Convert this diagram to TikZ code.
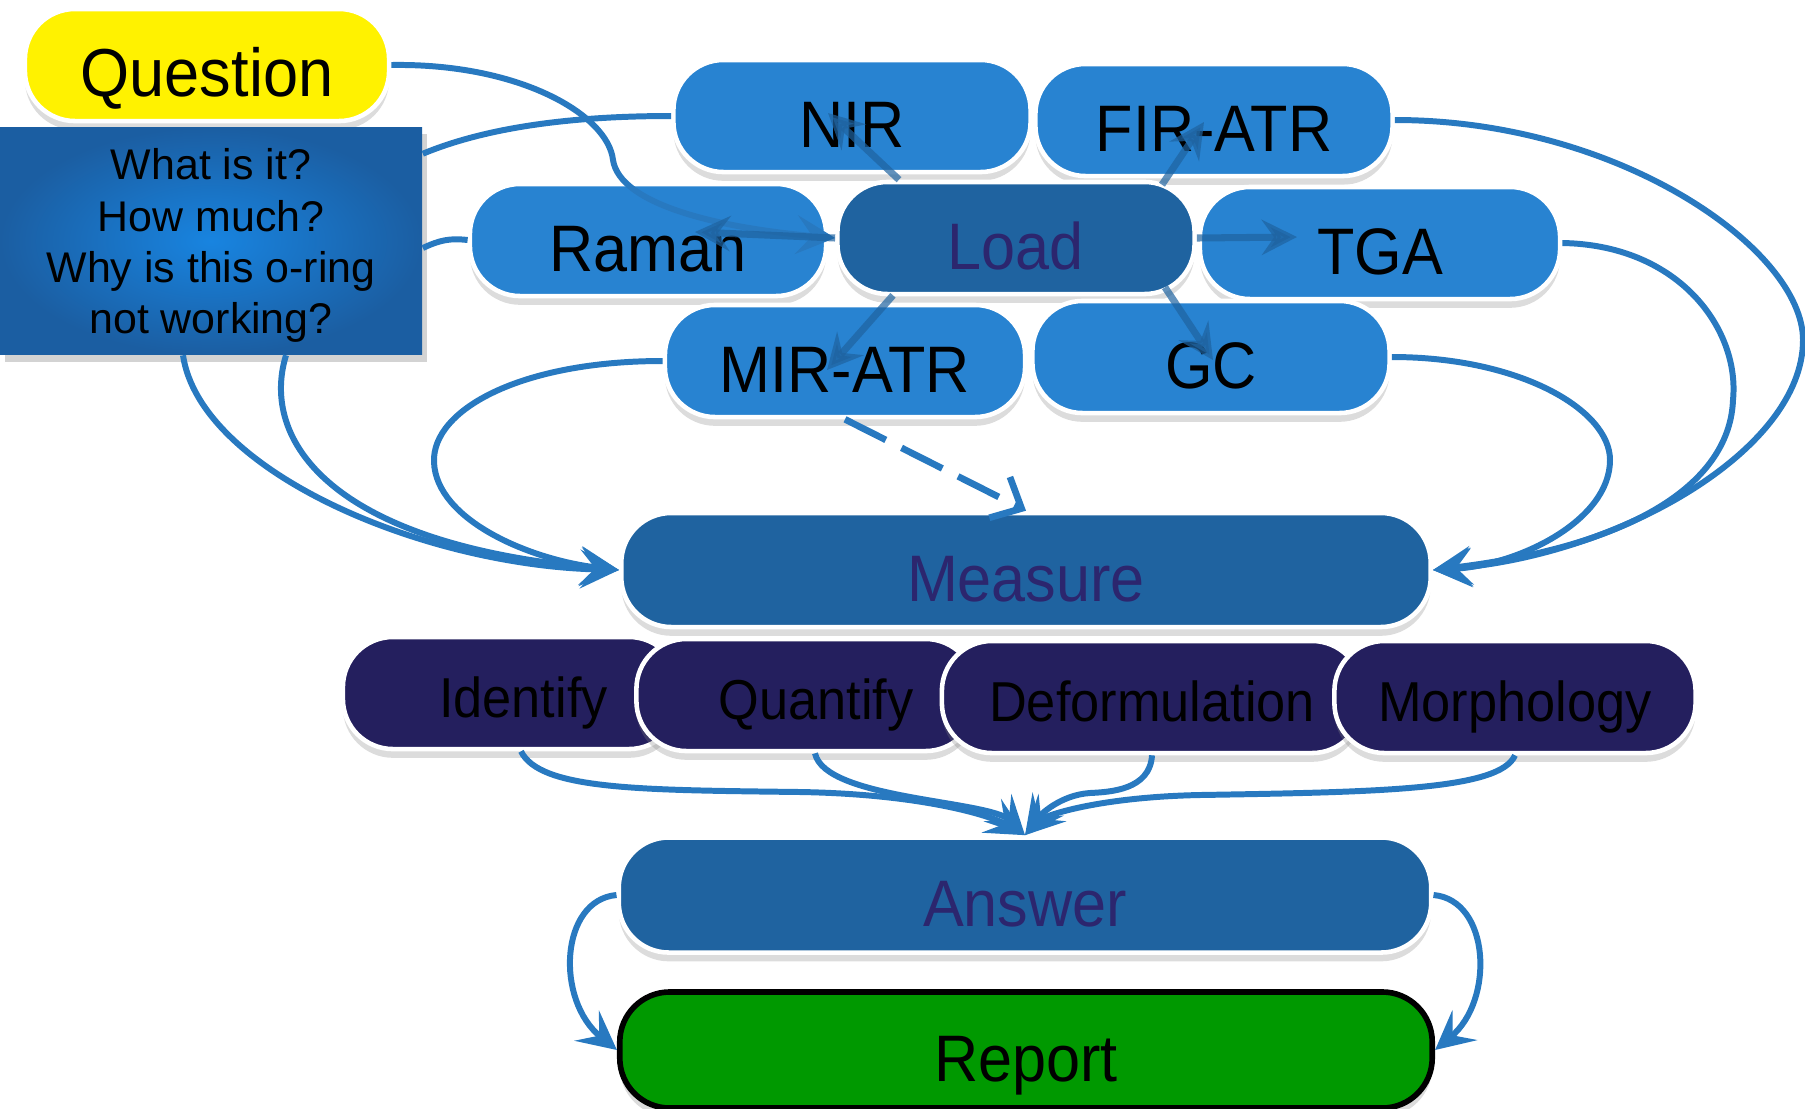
\documentclass[tikz,border=0pt]{standalone}
\usepackage{fontspec}
\setmainfont{Liberation Sans}
\newfontfamily\pillfont{Liberation Sans}[FakeStretch=0.93]
\usepackage{tikz}
\usetikzlibrary{shapes,arrows.meta,positioning,calc,shadows}

\definecolor{pillblue}{RGB}{40,131,209}
\definecolor{loadblue}{RGB}{31,99,160}
\definecolor{goalnavy}{RGB}{36,31,94}
\definecolor{linkblue}{RGB}{40,121,192}
\definecolor{stagetext}{RGB}{44,38,110}
\definecolor{boxmid}{RGB}{24,132,224}
\definecolor{boxedge}{RGB}{27,94,162}
\definecolor{reportgreen}{RGB}{0,153,0}

\tikzstyle{pill} = [rectangle, rounded corners=0.5cm, draw=white, line width=1.3pt, fill=pillblue, minimum height=1.12cm, text=black, text height=18pt, text depth=0pt, font=\pillfont\fontsize{18.7}{20}\selectfont, drop shadow={opacity=0.28, shadow xshift=0pt, shadow yshift=-2.5pt}]
\tikzstyle{stage} = [pill, fill=loadblue, text=stagetext]
\tikzstyle{goal} = [pill, fill=goalnavy, text height=14pt, font=\pillfont\fontsize{16}{18}\selectfont]
\tikzstyle{link} = [draw=linkblue, line width=1.7pt, -{Stealth[length=11pt,width=11pt,inset=4.5pt]}]
\tikzstyle{plainlink} = [draw=linkblue, line width=1.7pt]
\tikzstyle{loadarrow} = [draw=loadblue, opacity=0.7, line width=2pt, -{Stealth[length=10pt,width=10pt,inset=3.5pt]}]

\begin{document}
\begin{tikzpicture}[x=0.01cm, y=-0.01cm]
    \useasboundingbox (0,0) rectangle (1805,1108);

    % question and the box below it
    \node[pill, fill=yellow, minimum width=3.64cm, text height=18pt, font=\pillfont\fontsize{19.3}{21}\selectfont] (question) at (207,65) {Question};
    \node[rectangle, minimum width=4.22cm, minimum height=2.27cm, inner color=boxmid, outer color=boxedge, align=center, font=\fontsize{12.2}{14.6}\selectfont, drop shadow={opacity=0.35, shadow xshift=1.5pt, shadow yshift=-2pt}] (qbox) at (211,241) {\rule{0pt}{0.95em}What is it?\\How much?\\Why is this o-ring\\not working?};

    % techniques around the load step
    \node[pill, minimum width=3.57cm] (nir) at (852,116) {NIR};
    \node[pill, minimum width=3.57cm] (firatr) at (1214,120) {FIR-ATR};
    \node[pill, minimum width=3.56cm] (raman) at (648,240) {Raman};
    \node[stage, minimum width=3.57cm] (load) at (1016,238) {Load};
    \node[pill, minimum width=3.60cm] (tga) at (1380,243) {TGA};
    \node[pill, minimum width=3.60cm] (miratr) at (845,361) {MIR-ATR};
    \node[pill, minimum width=3.57cm] (gc) at (1211,357) {GC};

    \node[stage, minimum width=8.09cm, minimum height=1.14cm] (measure) at (1026,570) {Measure};

    \node[goal, minimum width=3.36cm] (identify) at (511,693) {\hspace{0.25cm}Identify};
    \node[goal, minimum width=3.39cm] (quantify) at (806,695) {\hspace{0.2cm}Quantify};
    \node[goal, minimum width=4.20cm] (deform) at (1152,697) {Deformulation};
    \node[goal, minimum width=3.61cm] (morph) at (1515,697) {Morphology};

    \node[stage, minimum width=8.12cm, minimum height=1.15cm] (answer) at (1025,895) {Answer};
    \node[pill, draw=black, line width=1.6pt, fill=reportgreen, minimum width=8.12cm, minimum height=1.16cm] (report) at (1026,1050) {Report};

    % question side
    \draw[link] (question.east) .. controls (520,63) and (608,115) .. (613,160) .. controls (620,205) and (720,228) .. (load.west);
    \draw[plainlink] ($(qbox.north east)+(0,27)$) .. controls (480,130) and (560,116) .. (nir.west);
    \draw[plainlink] ($(qbox.east)+(0,7)$) .. controls (440,240) and (450,238) .. (raman.west);
    \draw[link] ($(qbox.south)+(-28,0)$) .. controls (200,470) and (420,565) .. (measure.west);
    \draw[link] ($(qbox.south)+(75,0)$) .. controls (260,440) and (330,545) .. (measure.west);

    % into measure
    \draw[link] (miratr.west) .. controls (520,361) and (432,410) .. (434,462) .. controls (436,520) and (530,560) .. (measure.west);
    \draw[link, line width=1.9pt, dash pattern=on 13pt off 5pt, -{Straight Barb[length=7pt,width=13pt]}] (miratr.south) -- (measure.north);
    \draw[link] (gc.east) .. controls (1520,357) and (1610,410) .. (1610,460) .. controls (1610,520) and (1520,565) .. (measure.east);
    \draw[link] (tga.east) .. controls (1680,245) and (1740,330) .. (1733,400) .. controls (1730,480) and (1640,545) .. (measure.east);
    \draw[link] (firatr.east) .. controls (1620,120) and (1803,250) .. (1803,340) .. controls (1803,450) and (1620,555) .. (measure.east);

    % into answer
    \draw[link] ($(identify.south)+(10,0)$) .. controls (540,790) and (640,790) .. (800,792) .. controls (920,794) and (990,815) .. (answer.north);
    \draw[link] ($(quantify.south)+(9,0)$) .. controls (825,800) and (990,800) .. (answer.north);
    \draw[link] (deform.south) .. controls (1150,790) and (1110,792) .. (1090,793) .. controls (1060,795) and (1040,815) .. (answer.north);
    \draw[link] (morph.south) .. controls (1500,790) and (1380,792) .. (1200,795) .. controls (1100,797) and (1045,815) .. (answer.north);

    % answer to report
    \draw[link] (answer.west) .. controls (560,900) and (555,1000) .. (report.west);
    \draw[link] (answer.east) .. controls (1490,900) and (1495,1000) .. (report.east);

    % load to each technique
    \draw[loadarrow] ($(load.north)+(-117,0)$) -- ($(nir.center)+(-24,-3)$);
    \draw[loadarrow] ($(load.north)+(146,5)$) -- ($(firatr.center)+(-10,2)$);
    \draw[loadarrow] (load.east) -- ($(tga.center)+(-83,-6)$);
    \draw[loadarrow] ($(load.south)+(149,-9)$) -- ($(gc.center)+(2,3)$);
    \draw[loadarrow] ($(load.south)+(-123,-1)$) -- ($(miratr.center)+(-18,9)$);
    \draw[loadarrow] (load.west) -- ($(raman.center)+(47,-8)$);
\end{tikzpicture}
\end{document}
